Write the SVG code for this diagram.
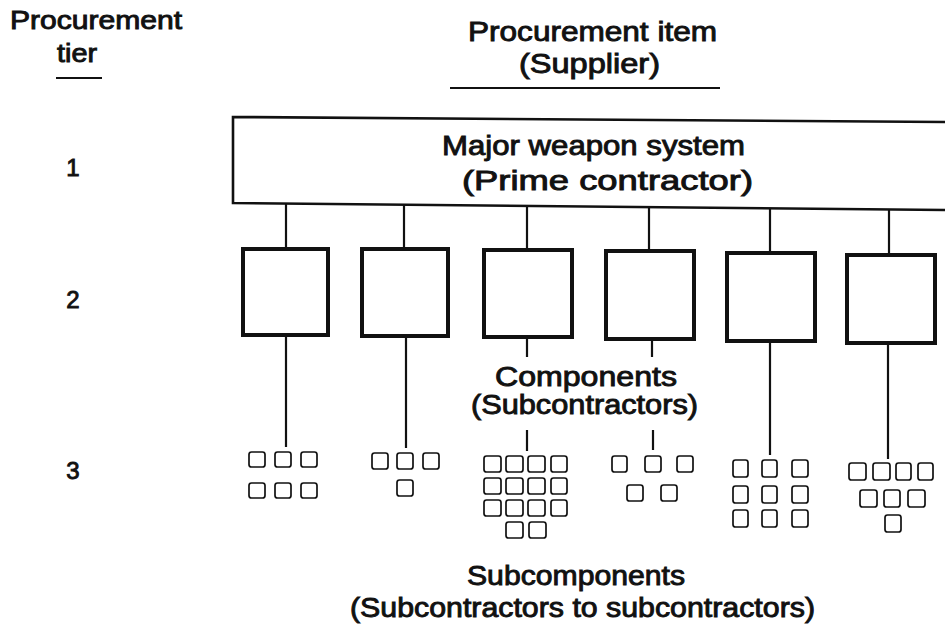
<svg xmlns="http://www.w3.org/2000/svg" width="945" height="633" viewBox="0 0 945 633">
<style>
  .t{font-family:"Liberation Sans",Arial,Helvetica,sans-serif;fill:#111;stroke:#111;stroke-width:0.9;}
  .lbl{font-size:25px;}
  .num{font-size:24px;}
  .big{font-size:27px;}
  .ln{stroke:#111;stroke-width:2.2;fill:none;}
  .box2{fill:#fff;stroke:#111;stroke-width:4;}
  .box1{fill:#fff;stroke:#111;stroke-width:2.6;}
  .sb{fill:#fff;stroke:#111;stroke-width:1.7;}
</style>
<rect width="945" height="633" fill="#fff"/>

<g id="tier-header">
  <text class="t lbl" x="10" y="29" textLength="172" lengthAdjust="spacingAndGlyphs">Procurement</text>
  <text class="t lbl" x="77" y="62" text-anchor="middle" textLength="40" lengthAdjust="spacingAndGlyphs">tier</text>
  <line class="ln" x1="56" y1="78" x2="102" y2="78"/>
</g>
<g id="item-header">
  <text class="t big" x="468" y="41" textLength="249" lengthAdjust="spacingAndGlyphs">Procurement item</text>
  <text class="t big" x="519" y="73" textLength="141" lengthAdjust="spacingAndGlyphs">(Supplier)</text>
  <line class="ln" x1="450" y1="88" x2="720" y2="88"/>
</g>
<g id="tier-numbers">
  <text class="t num" x="73" y="176" text-anchor="middle">1</text>
  <text class="t num" x="73" y="308" text-anchor="middle">2</text>
  <text class="t num" x="73" y="479" text-anchor="middle">3</text>
</g>

<g id="connectors">
  <line class="ln" x1="286" y1="204" x2="286" y2="249"/>
  <line class="ln" x1="404" y1="205" x2="404" y2="249"/>
  <line class="ln" x1="527" y1="206" x2="527" y2="250"/>
  <line class="ln" x1="649" y1="207" x2="649" y2="251"/>
  <line class="ln" x1="770" y1="208" x2="770" y2="253"/>
  <line class="ln" x1="889" y1="209" x2="889" y2="255"/>
  <line class="ln" x1="286" y1="335" x2="286" y2="447"/>
  <line class="ln" x1="406" y1="336" x2="406" y2="448"/>
  <line class="ln" x1="527" y1="337" x2="527" y2="357"/>
  <line class="ln" x1="527" y1="430" x2="527" y2="451"/>
  <line class="ln" x1="652" y1="339" x2="652" y2="357"/>
  <line class="ln" x1="653" y1="430" x2="653" y2="450"/>
  <line class="ln" x1="770" y1="341" x2="770" y2="455"/>
  <line class="ln" x1="888" y1="343" x2="888" y2="459"/>
</g>

<g id="prime">
  <polygon class="box1" points="233,117 947,122 947,210 233,203"/>
  <text class="t big" x="442" y="155" textLength="303" lengthAdjust="spacingAndGlyphs">Major weapon system</text>
  <text class="t big" x="462" y="190" textLength="291" lengthAdjust="spacingAndGlyphs">(Prime contractor)</text>
</g>

<g id="comp1"><rect class="box2" x="243" y="249" width="85" height="86"/></g>
<g id="comp2"><rect class="box2" x="362" y="249" width="86" height="87"/></g>
<g id="comp3"><rect class="box2" x="484" y="250" width="88" height="87"/></g>
<g id="comp4"><rect class="box2" x="606" y="251" width="88" height="88"/></g>
<g id="comp5"><rect class="box2" x="727" y="253" width="88" height="88"/></g>
<g id="comp6"><rect class="box2" x="847" y="255" width="88" height="88"/></g>

<g id="components-label">
  <text class="t big" x="495" y="386" textLength="182" lengthAdjust="spacingAndGlyphs">Components</text>
  <text class="t big" x="471" y="414" textLength="227" lengthAdjust="spacingAndGlyphs">(Subcontractors)</text>
</g>

<g id="sub1">
  <rect class="sb" x="249" y="452" width="16" height="15" rx="2.5"/>
  <rect class="sb" x="275" y="452" width="16" height="15" rx="2.5"/>
  <rect class="sb" x="301" y="452" width="16" height="15" rx="2.5"/>
  <rect class="sb" x="249" y="483" width="16" height="15" rx="2.5"/>
  <rect class="sb" x="275" y="483" width="16" height="15" rx="2.5"/>
  <rect class="sb" x="301" y="483" width="16" height="15" rx="2.5"/>
</g>
<g id="sub2">
  <rect class="sb" x="372" y="453" width="16" height="16" rx="2.5"/>
  <rect class="sb" x="397" y="453" width="16" height="16" rx="2.5"/>
  <rect class="sb" x="423" y="453" width="16" height="16" rx="2.5"/>
  <rect class="sb" x="397" y="480" width="16" height="16" rx="2.5"/>
</g>
<g id="sub3">
  <rect class="sb" x="484" y="456" width="17" height="16" rx="2.5"/>
  <rect class="sb" x="506" y="456" width="17" height="16" rx="2.5"/>
  <rect class="sb" x="528" y="456" width="17" height="16" rx="2.5"/>
  <rect class="sb" x="551" y="456" width="16" height="16" rx="2.5"/>
  <rect class="sb" x="484" y="478" width="17" height="16" rx="2.5"/>
  <rect class="sb" x="506" y="478" width="17" height="16" rx="2.5"/>
  <rect class="sb" x="528" y="478" width="17" height="16" rx="2.5"/>
  <rect class="sb" x="551" y="478" width="16" height="16" rx="2.5"/>
  <rect class="sb" x="484" y="500" width="17" height="16" rx="2.5"/>
  <rect class="sb" x="506" y="500" width="17" height="16" rx="2.5"/>
  <rect class="sb" x="528" y="500" width="17" height="16" rx="2.5"/>
  <rect class="sb" x="551" y="500" width="16" height="16" rx="2.5"/>
  <rect class="sb" x="506" y="522" width="17" height="16" rx="2.5"/>
  <rect class="sb" x="529" y="522" width="17" height="16" rx="2.5"/>
</g>
<g id="sub4">
  <rect class="sb" x="612" y="456" width="15" height="16" rx="2.5"/>
  <rect class="sb" x="645" y="456" width="16" height="16" rx="2.5"/>
  <rect class="sb" x="677" y="456" width="16" height="16" rx="2.5"/>
  <rect class="sb" x="627" y="485" width="16" height="16" rx="2.5"/>
  <rect class="sb" x="661" y="485" width="16" height="16" rx="2.5"/>
</g>
<g id="sub5">
  <rect class="sb" x="733" y="460" width="15" height="17" rx="2.5"/>
  <rect class="sb" x="762" y="460" width="15" height="17" rx="2.5"/>
  <rect class="sb" x="792" y="460" width="16" height="17" rx="2.5"/>
  <rect class="sb" x="733" y="486" width="15" height="17" rx="2.5"/>
  <rect class="sb" x="762" y="486" width="15" height="17" rx="2.5"/>
  <rect class="sb" x="792" y="486" width="16" height="17" rx="2.5"/>
  <rect class="sb" x="733" y="510" width="15" height="17" rx="2.5"/>
  <rect class="sb" x="762" y="510" width="15" height="17" rx="2.5"/>
  <rect class="sb" x="792" y="510" width="16" height="17" rx="2.5"/>
</g>
<g id="sub6">
  <rect class="sb" x="849" y="463" width="17" height="17" rx="2.5"/>
  <rect class="sb" x="873" y="463" width="17" height="17" rx="2.5"/>
  <rect class="sb" x="896" y="463" width="15" height="17" rx="2.5"/>
  <rect class="sb" x="918" y="463" width="15" height="17" rx="2.5"/>
  <rect class="sb" x="860" y="490" width="17" height="17" rx="2.5"/>
  <rect class="sb" x="884" y="490" width="16" height="17" rx="2.5"/>
  <rect class="sb" x="908" y="490" width="17" height="17" rx="2.5"/>
  <rect class="sb" x="885" y="515" width="16" height="17" rx="2.5"/>
</g>

<g id="subcomponents-label">
  <text class="t big" x="467" y="585" textLength="218" lengthAdjust="spacingAndGlyphs">Subcomponents</text>
  <text class="t big" x="350" y="617" textLength="465" lengthAdjust="spacingAndGlyphs">(Subcontractors to subcontractors)</text>
</g>
</svg>
